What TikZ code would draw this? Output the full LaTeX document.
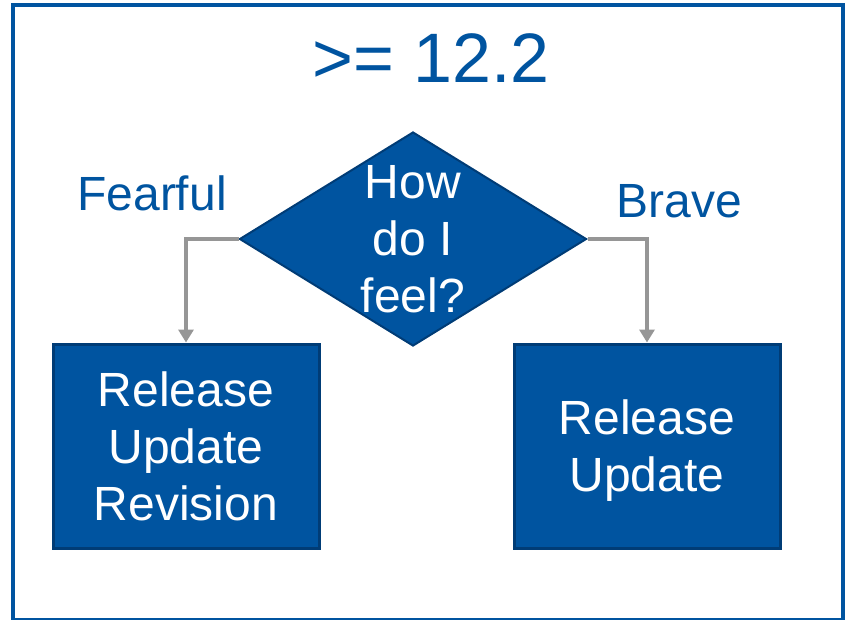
\documentclass[tikz,border=0pt]{standalone}
\usepackage{fontspec}
\setmainfont{Liberation Sans}
\usepackage{tikz}
\usetikzlibrary{shapes.geometric,arrows.meta}
\definecolor{mainblue}{RGB}{0,84,160}
\definecolor{edgeblue}{RGB}{0,60,118}
\definecolor{flowgray}{RGB}{150,150,150}
\newcommand{\boxfont}{\fontsize{48}{57}\selectfont}

\begin{document}
\begin{tikzpicture}[x=1pt, y=-1pt,
    decision/.style={diamond, fill=mainblue, draw=edgeblue, line width=2pt,
        minimum width=347pt, minimum height=214pt, inner sep=0pt},
    release/.style={rectangle, fill=mainblue, draw=edgeblue, line width=3pt,
        minimum width=266pt, minimum height=204pt, inner sep=0pt, text depth=0pt,
        text=white, align=center, font=\boxfont},
    answer/.style={text=mainblue, font=\fontsize{48}{57}\selectfont, inner sep=0pt},
    flow/.style={draw=flowgray, line width=3.5pt, -{Triangle[width=15pt,length=13pt]}}]
    \useasboundingbox (0,0) rectangle (845,619);
    \draw[mainblue, line width=4pt] (13,5) rectangle (843,620);

    \node[text=mainblue, font=\fontsize{70}{84}\selectfont, inner sep=0pt, anchor=base]
        (version) at (431,82) {>= 12.2};

    \node[decision] (feel) at (413,239) {};
    \node[text=white, align=center, font=\boxfont, inner sep=0pt] (question) at (feel.center)
        {How\\do I\\feel?};

    \node[release] (rur) at (186,446) {Release\\Update\\Revision};
    \node[release] (ru) at (647,446) {Release\\Update};

    \node[answer, anchor=base] (fearful) at (152,210) {Fearful};
    \node[answer, anchor=base] (brave) at (679,217) {Brave};

    \draw[flow] (feel.west) -| (rur.north);
    \draw[flow] (feel.east) -| (ru.north);
\end{tikzpicture}
\end{document}
